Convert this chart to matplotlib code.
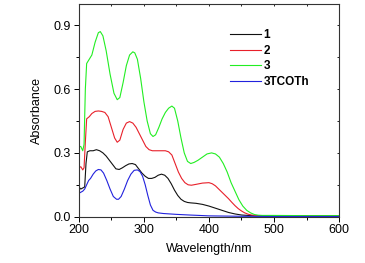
import numpy as np
import matplotlib
matplotlib.use("Agg")
import matplotlib.pyplot as plt
from matplotlib.ticker import MultipleLocator

plt.rcParams['font.family'] = ['Liberation Sans', 'DejaVu Sans']

# compound 1
w1 = [200,203,206,209,211,213,217,222,227,232,237,242,247,252,257,262,267,272,277,282,
      287,292,297,302,307,312,317,322,327,332,337,342,347,352,357,362,367,372,380,390,
      400,410,420,430,440,450,460,470,480,500,550,600]
a1 = [0.14,0.13,0.135,0.14,0.25,0.305,0.31,0.31,0.315,0.31,0.3,0.285,0.265,0.245,0.225,0.222,0.23,0.24,0.248,0.25,
      0.245,0.225,0.205,0.19,0.18,0.18,0.185,0.195,0.2,0.195,0.18,0.155,0.125,0.1,0.082,0.072,0.067,0.065,0.063,0.058,
      0.05,0.04,0.03,0.02,0.013,0.008,0.006,0.005,0.005,0.005,0.005,0.005]

# compound 2
w2 = [200,203,206,208,210,212,216,220,225,230,235,240,245,250,255,259,263,268,273,278,
      283,288,293,298,303,308,313,318,323,328,333,338,343,348,353,358,363,368,373,380,
      390,400,405,410,415,420,425,430,435,440,445,450,455,460,465,470,475,480,490,500,550,600]
a2 = [0.23,0.235,0.22,0.23,0.35,0.46,0.47,0.485,0.495,0.497,0.495,0.49,0.47,0.42,0.37,0.35,0.36,0.41,0.44,0.447,
      0.44,0.42,0.39,0.36,0.33,0.315,0.31,0.31,0.31,0.31,0.31,0.305,0.29,0.25,0.21,0.18,0.16,0.15,0.148,0.152,
      0.158,0.16,0.155,0.145,0.13,0.115,0.1,0.085,0.068,0.052,0.038,0.027,0.018,0.012,0.008,0.006,0.005,0.005,0.005,0.005,0.005,0.005]

# compound 3
w3 = [200,203,206,208,210,212,216,220,225,230,233,237,242,248,254,259,263,268,273,278,
      283,286,290,295,300,305,310,314,318,323,328,333,338,343,347,352,357,362,367,372,
      377,383,390,397,404,410,416,422,428,434,440,446,452,458,464,470,476,482,490,500,550,600]
a3 = [0.33,0.33,0.31,0.34,0.6,0.72,0.74,0.76,0.82,0.865,0.87,0.85,0.78,0.67,0.58,0.55,0.56,0.63,0.71,0.76,
      0.775,0.77,0.74,0.65,0.54,0.45,0.39,0.377,0.385,0.42,0.46,0.49,0.51,0.52,0.51,0.45,0.37,0.3,0.26,0.25,
      0.255,0.265,0.28,0.295,0.30,0.295,0.28,0.25,0.21,0.16,0.12,0.08,0.05,0.03,0.018,0.01,0.007,0.006,0.006,0.006,0.005,0.005]

# 3TCOTh
w4 = [200,203,206,209,212,215,218,222,226,230,234,238,243,248,253,258,261,265,270,275,
      280,285,290,294,298,302,306,310,314,318,322,330,340,350,370,400,450,500,600]
a4 = [0.11,0.115,0.12,0.13,0.15,0.17,0.18,0.2,0.215,0.222,0.22,0.205,0.17,0.13,0.095,0.082,0.082,0.095,0.13,0.17,
      0.2,0.218,0.22,0.212,0.19,0.15,0.1,0.055,0.03,0.022,0.018,0.015,0.013,0.011,0.008,0.004,0.002,0.001,0.001]

labels = ["1", "2", "3", "3TCOTh"]
colors = ["#111111", "#e8202a", "#22ee22", "#2222dd"]

fig = plt.figure(figsize=(3.65, 2.63), dpi=100)
ax = fig.add_axes([0.216, 0.176, 0.713, 0.809])

for w, a, lab, c in zip([w1, w2, w3, w4], [a1, a2, a3, a4], labels, colors):
    ax.plot(w, a, color=c, lw=0.8, label=lab)

ax.set_xlim(200, 600)
ax.set_ylim(0, 1.0)
ax.xaxis.set_major_locator(MultipleLocator(100))
ax.xaxis.set_minor_locator(MultipleLocator(50))
ax.yaxis.set_major_locator(MultipleLocator(0.3))
ax.yaxis.set_minor_locator(MultipleLocator(0.15))
ax.set_yticks([0.0, 0.3, 0.6, 0.9])
ax.set_yticklabels(["0.0", "0.3", "0.6", "0.9"])
ax.tick_params(which='both', direction='out', labelsize=9, width=0.7, pad=2)
ax.tick_params(which='major', length=3.5)
ax.tick_params(which='minor', length=2.5)

# small inward ticks on top/right like the original plot
ax2 = ax.secondary_xaxis('top')
ax2.xaxis.set_major_locator(MultipleLocator(100))
ax2.xaxis.set_minor_locator(MultipleLocator(50))
ax2.tick_params(which='both', direction='in', length=1.5, width=0.6, labeltop=False)
ax3 = ax.secondary_yaxis('right')
ax3.yaxis.set_major_locator(MultipleLocator(0.3))
ax3.yaxis.set_minor_locator(MultipleLocator(0.15))
ax3.tick_params(which='both', direction='in', length=1.5, width=0.6, labelright=False)
for a_ in (ax2, ax3):
    for s in a_.spines.values():
        s.set_visible(False)

for s in ax.spines.values():
    s.set_linewidth(0.8)
    s.set_color("#333333")

ax.set_xlabel("Wavelength/nm", fontsize=9, labelpad=5)
ax.set_ylabel("Absorbance", fontsize=9, labelpad=8)

leg = ax.legend(loc='upper left', bbox_to_anchor=(0.55, 0.92), frameon=False,
                prop={'weight': 'bold', 'size': 8.5}, handlelength=2.6,
                handletextpad=0.2, labelspacing=0.3, borderpad=0.2)

fig.savefig("out.png", dpi=100)
